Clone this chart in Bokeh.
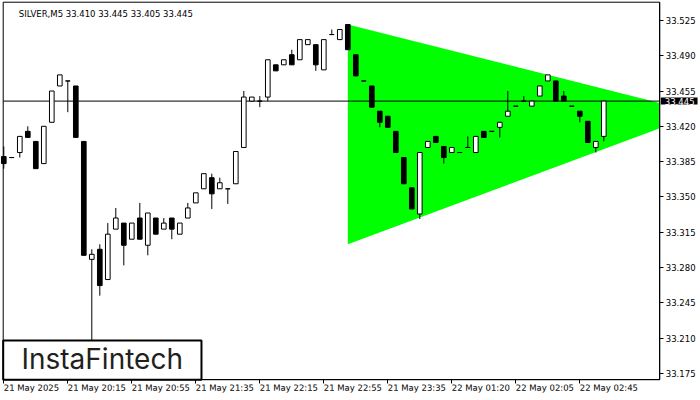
from bokeh.plotting import figure
from bokeh.models import (ColumnDataSource, FixedTicker, PrintfTickFormatter, LinearAxis,
                          Label, BoxAnnotation, Range1d)
from bokeh.embed import file_html
from bokeh.resources import INLINE

# ---- data ----
opens = [33.390, 33.389, 33.394, 33.415, 33.405, 33.383, 33.424, 33.460, 33.465, 33.460,
         33.405, 33.288, 33.298, 33.268, 33.318, 33.324, 33.308, 33.329, 33.302, 33.329,
         33.318, 33.329, 33.313, 33.329, 33.344, 33.358, 33.369, 33.358, 33.358, 33.363,
         33.399, 33.445, 33.445, 33.449, 33.481, 33.481, 33.491, 33.486, 33.501, 33.501,
         33.476, 33.511, 33.506, 33.521, 33.491, 33.465, 33.460, 33.435, 33.430, 33.415,
         33.389, 33.359, 33.333, 33.399, 33.410, 33.400, 33.394, 33.394, 33.399, 33.394,
         33.415, 33.415, 33.419, 33.430, 33.440, 33.445, 33.440, 33.450, 33.465, 33.465,
         33.450, 33.440, 33.435, 33.425, 33.399, 33.410]
highs = [33.400, 33.389, 33.410, 33.420, 33.405, 33.420, 33.455, 33.471, 33.465, 33.460,
         33.405, 33.298, 33.303, 33.324, 33.339, 33.324, 33.324, 33.344, 33.334, 33.329,
         33.329, 33.329, 33.324, 33.344, 33.354, 33.373, 33.373, 33.369, 33.358, 33.395,
         33.455, 33.449, 33.450, 33.486, 33.481, 33.486, 33.496, 33.506, 33.506, 33.501,
         33.506, 33.516, 33.516, 33.521, 33.491, 33.465, 33.460, 33.435, 33.430, 33.415,
         33.389, 33.359, 33.394, 33.405, 33.410, 33.400, 33.399, 33.394, 33.410, 33.410,
         33.415, 33.415, 33.424, 33.455, 33.440, 33.450, 33.445, 33.460, 33.471, 33.465,
         33.455, 33.440, 33.435, 33.425, 33.405, 33.445]
lows = [33.378, 33.389, 33.389, 33.409, 33.378, 33.383, 33.424, 33.460, 33.434, 33.409,
        33.292, 33.200, 33.252, 33.268, 33.318, 33.282, 33.308, 33.308, 33.292, 33.313,
        33.318, 33.308, 33.313, 33.329, 33.344, 33.358, 33.338, 33.358, 33.343, 33.363,
        33.399, 33.445, 33.439, 33.445, 33.475, 33.481, 33.481, 33.486, 33.501, 33.475,
        33.476, 33.511, 33.506, 33.496, 33.470, 33.465, 33.439, 33.419, 33.419, 33.394,
        33.363, 33.338, 33.328, 33.399, 33.404, 33.383, 33.394, 33.394, 33.399, 33.394,
        33.409, 33.415, 33.409, 33.430, 33.440, 33.445, 33.440, 33.450, 33.465, 33.445,
        33.445, 33.440, 33.424, 33.404, 33.394, 33.405]
closes = [33.383, 33.389, 33.410, 33.409, 33.378, 33.420, 33.455, 33.471, 33.465, 33.409,
          33.292, 33.293, 33.262, 33.313, 33.329, 33.302, 33.324, 33.308, 33.334, 33.313,
          33.324, 33.318, 33.324, 33.339, 33.354, 33.373, 33.353, 33.364, 33.358, 33.395,
          33.449, 33.449, 33.445, 33.486, 33.475, 33.486, 33.481, 33.506, 33.506, 33.481,
          33.506, 33.511, 33.516, 33.496, 33.470, 33.465, 33.439, 33.424, 33.419, 33.394,
          33.363, 33.338, 33.394, 33.405, 33.404, 33.389, 33.399, 33.394, 33.399, 33.410,
          33.409, 33.415, 33.424, 33.435, 33.440, 33.445, 33.445, 33.460, 33.471, 33.445,
          33.445, 33.440, 33.430, 33.404, 33.405, 33.445]

x_tick_idx = [0, 8, 16, 24, 32, 40, 48, 56, 64, 72]
x_tick_labels = ["21 May 2025", "21 May 20:15", "21 May 20:55", "21 May 21:35",
                 "21 May 22:15", "21 May 22:55", "21 May 23:35", "22 May 01:20",
                 "22 May 02:05", "22 May 02:45"]
y_ticks = [33.175, 33.210, 33.245, 33.280, 33.315, 33.350, 33.385, 33.420,
           33.455, 33.490, 33.525]

# symmetrical triangle pattern (bar index, price)
tri_x = [43, 87.1, 43]
tri_y = [33.521, 33.433, 33.303]

symbol = "SILVER,M5"
current_price = 33.445

# ---- layout constants (canvas and chart box, in bar-index / price units) ----
X0, X1 = -0.4125, 87.0875
Y0, Y1 = 33.148, 33.5448
CH_L, CH_R = -0.075, 82.0
CH_B, CH_T = 33.1686, 33.5431

FONT = "DejaVu Sans"
FS = "8.5px"

n = len(opens)
idx = list(range(n))
fills = ["white" if c >= o else "black" for o, c in zip(opens, closes)]
src = ColumnDataSource(dict(x=idx, o=opens, h=highs, l=lows, c=closes,
                            top=[max(o, c) for o, c in zip(opens, closes)],
                            bot=[min(o, c) for o, c in zip(opens, closes)],
                            fill=fills))

p = figure(width=700, height=400, output_backend="svg", toolbar_location=None,
           x_range=Range1d(X0, X1), y_range=Range1d(Y0, Y1),
           x_axis_location=None, y_axis_location=None,
           min_border_left=0, min_border_top=0, min_border_right=0, min_border_bottom=0)
p.background_fill_color = "white"
p.border_fill_color = "white"
p.outline_line_color = None
p.xgrid.visible = False
p.ygrid.visible = False


def on_line(xa, ya, xb, yb, x):
    return ya + (yb - ya) * (x - xa) / (xb - xa)


# triangle, cut at the right edge of the chart
top_r = on_line(tri_x[0], tri_y[0], tri_x[1], tri_y[1], CH_R)
bot_r = on_line(tri_x[2], tri_y[2], tri_x[1], tri_y[1], CH_R)
p.patch([tri_x[0], CH_R, CH_R, tri_x[2]], [tri_y[0], top_r, bot_r, tri_y[2]],
        fill_color="#00ff00", line_color=None)

# current price line
p.segment(x0=[CH_L], y0=[current_price], x1=[CH_R], y1=[current_price],
          line_color="black", line_width=1)

# candles
p.segment(x0="x", y0="h", x1="x", y1="l", source=src, line_color="black", line_width=1)
p.vbar(x="x", top="top", bottom="bot", width=0.58, source=src,
       fill_color="fill", line_color="black", line_width=1)

# axes fixed on the chart box
ya = LinearAxis(fixed_location=CH_R, bounds=(CH_B, CH_T),
                ticker=FixedTicker(ticks=y_ticks),
                formatter=PrintfTickFormatter(format="%.3f"))
ya.major_tick_out = 4
ya.major_tick_in = 0
ya.minor_tick_out = 0
ya.minor_tick_in = 0
ya.major_label_standoff = 2
ya.major_label_text_font = FONT
ya.major_label_text_font_size = FS
ya.major_label_text_color = "black"
ya.axis_line_color = "black"
p.add_layout(ya, "right")

xa = LinearAxis(fixed_location=CH_B, bounds=(CH_L, CH_R),
                ticker=FixedTicker(ticks=x_tick_idx))
xa.major_label_overrides = {t: s for t, s in zip(x_tick_idx, x_tick_labels)}
xa.major_label_orientation = -0.001
xa.major_tick_out = 4
xa.major_tick_in = 0
xa.minor_tick_out = 0
xa.minor_tick_in = 0
xa.major_label_standoff = 4
xa.major_label_text_font = FONT
xa.major_label_text_font_size = FS
xa.major_label_text_color = "black"
xa.axis_line_color = "black"
p.add_layout(xa, "below")

# chart border (top and left sides)
p.add_layout(BoxAnnotation(left=CH_L, right=CH_R, bottom=CH_B, top=CH_T,
                           fill_color=None, fill_alpha=0,
                           line_color="black", line_width=1, line_alpha=1.0))

# header
p.add_layout(Label(x=1.875, y=33.5313, text="%s  %.3f %.3f %.3f %.3f" % (
    symbol, opens[-1], highs[-1], lows[-1], closes[-1]),
    text_font=FONT, text_font_size=FS, text_color="black",
    text_baseline="alphabetic", text_align="left"))

# current price tag on the axis
tag = Label(x=CH_R, y=current_price, x_offset=1, text="%.3f" % current_price,
            text_font=FONT, text_font_size=FS, text_color="white",
            text_baseline="middle", text_align="left",
            background_fill_color="black")
try:
    tag.padding = dict(left=4, right=3, top=0, bottom=0)
except Exception:
    tag.padding = 1
p.add_layout(tag)

# logo box
p.add_layout(BoxAnnotation(left=CH_L, right=24.71, bottom=CH_B, top=33.2075,
                           fill_color="white", fill_alpha=1.0,
                           line_color="black", line_width=2, line_alpha=1.0))
p.add_layout(Label(x=12.3, y=33.1887, text="InstaFintech", text_font="Inter",
                   text_font_size="28px", text_color="#231f20",
                   text_align="center", text_baseline="middle"))

open("out.html", "w").write(file_html(p, INLINE))
